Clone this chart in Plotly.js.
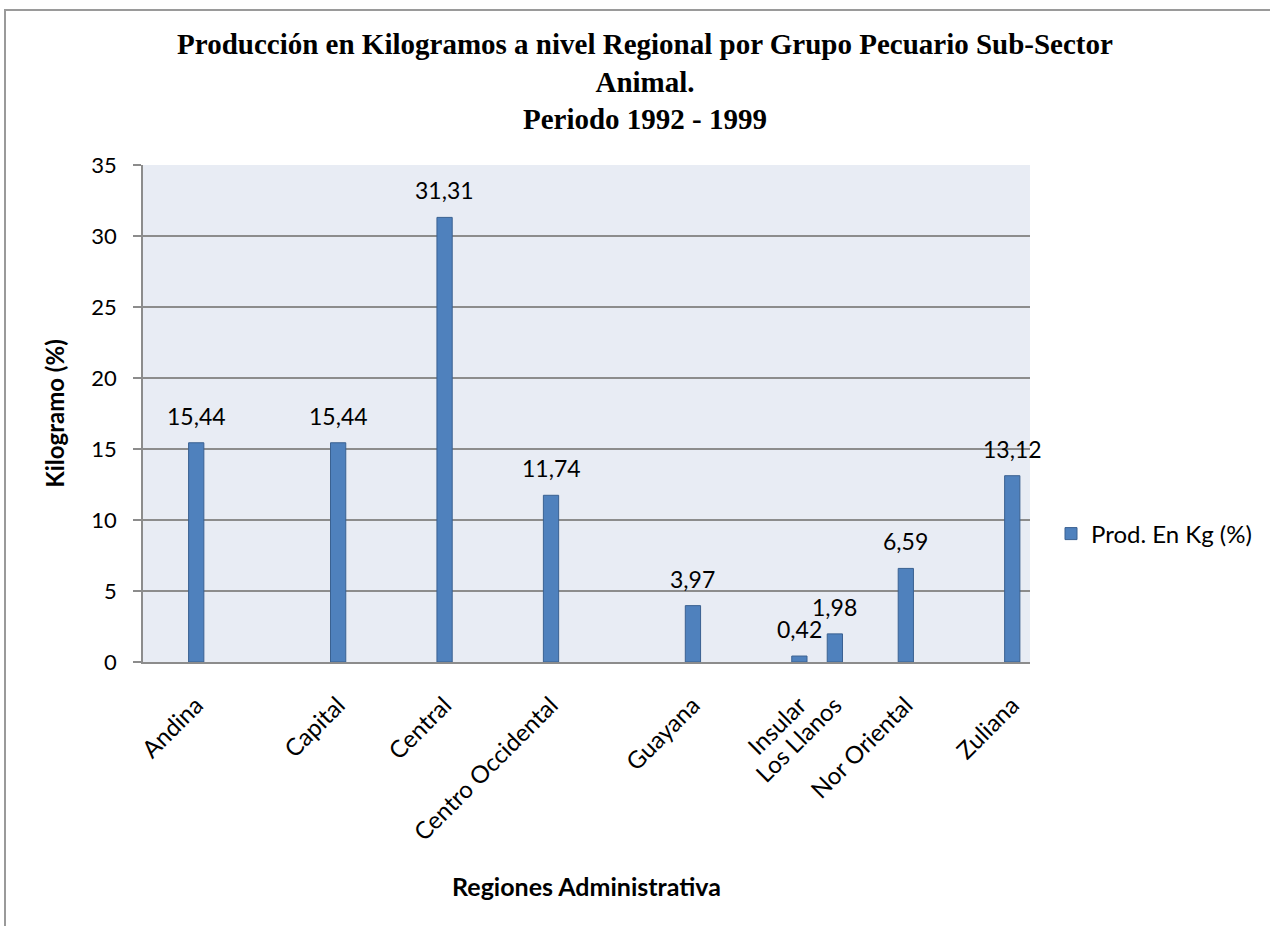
<!DOCTYPE html>
<html>
<head>
<meta charset="utf-8">
<script src="https://cdn.plot.ly/plotly-3.0.1.min.js"></script>
<style>
html,body{margin:0;padding:0;background:#ffffff;overflow:hidden}
#wrap{position:relative;width:1270px;height:926px;overflow:hidden}
#chart{position:absolute;left:0;top:0;width:1270px;height:926px;z-index:1}
#frameTop{position:absolute;left:4px;top:9px;width:1266px;height:0;border-top:2px solid #9a9a9a;z-index:5;pointer-events:none}
#frameLeft{position:absolute;left:4px;top:9px;width:0;height:917px;border-left:2px solid #9a9a9a;z-index:5;pointer-events:none}
</style>
</head>
<body>
<div id="wrap"><div id="chart"></div><div id="frameTop"></div><div id="frameLeft"></div></div>
<script>
// Regions (tick labels)
const regions = ['Andina', 'Capital', 'Central', 'Centro Occidental', 'Guayana', 'Insular', 'Los Llanos', 'Nor Oriental', 'Zuliana'];
// Row of each region in the source sheet (25 rows, blank rows in between)
const sheetRows = [1, 5, 8, 11, 15, 18, 19, 21, 24];
const sheetRowCount = 25;
// Producción en Kg (%)
const prodKgPct = [15.44, 15.44, 31.31, 11.74, 3.97, 0.42, 1.98, 6.59, 13.12];
const yTicks = [0, 5, 10, 15, 20, 25, 30, 35];
const seriesName = 'Prod. En Kg (%)';

const W = 1270, H = 926;
const M = {l: 143, r: 240, t: 165, b: 264};
const pw = W - M.l - M.r, ph = H - M.t - M.b;
const px2x = p => (p - M.l) / pw;
const py2y = p => (H - M.b - p) / ph;

const sans = 'Lato, "Open Sans", sans-serif';
const grid = '#8c8c8c';

const fmt = v => v.toFixed(2).replace('.', ',');

const trace = {
  type: 'bar',
  name: seriesName,
  x: sheetRows,
  y: prodKgPct,
  width: 0.43,
  marker: {color: '#4F81BD', line: {color: '#3A6191', width: 1}},
  hoverinfo: 'x+y',
  showlegend: true
};

const labels = prodKgPct.map((v, i) => ({
  x: sheetRows[i], y: v, xref: 'x', yref: 'y',
  text: fmt(v), showarrow: false,
  xanchor: 'center', yanchor: 'bottom', yshift: 11,
  font: {family: sans, size: 23, color: '#000'}
}));

const layout = {
  width: W, height: H,
  margin: M,
  separators: ',.',
  paper_bgcolor: '#ffffff',
  plot_bgcolor: '#E8ECF4',
  title: {
    text: 'Producción en Kilogramos a nivel Regional por Grupo Pecuario Sub-Sector<br>Animal.<br>Periodo 1992 - 1999',
    font: {family: '"Liberation Serif", "Times New Roman", serif', size: 29, weight: 700, color: '#000'},
    xref: 'container', yref: 'container',
    x: 645 / W, xanchor: 'center',
    y: 1 - 54 / H, yanchor: 'top'
  },
  xaxis: {
    range: [-0.5, sheetRowCount - 0.5],
    tickmode: 'array', tickvals: sheetRows, ticktext: regions,
    tickangle: -45,
    tickfont: {family: sans, size: 24, color: '#000'},
    ticklabelstandoff: 18,
    showgrid: false, zeroline: false,
    showline: true, linecolor: grid, linewidth: 1.5,
    ticks: '',
    title: {text: 'Regiones Administrativa', font: {family: sans, size: 25, weight: 700, color: '#000'}, standoff: 34}
  },
  yaxis: {
    range: [0, 35],
    tickmode: 'array', tickvals: yTicks,
    tickfont: {family: sans, size: 22, color: '#000'},
    ticks: 'outside', ticklen: 8, tickcolor: grid, tickwidth: 1.5,
    ticklabelstandoff: 12,
    showgrid: true, gridcolor: grid, gridwidth: 1.5,
    zeroline: false,
    showline: true, linecolor: grid, linewidth: 1.5,
    title: {text: 'Kilogramo (%)', font: {family: sans, size: 24, weight: 700, color: '#000'}, standoff: 20}
  },
  showlegend: true,
  legend: {
    x: px2x(1051), xanchor: 'left',
    y: py2y(534), yanchor: 'middle',
    font: {family: sans, size: 24, color: '#000'},
    bgcolor: 'rgba(0,0,0,0)'
  },
  annotations: labels
};

Plotly.newPlot('chart', [trace], layout, {displayModeBar: false, responsive: false});
</script>
</body>
</html>
